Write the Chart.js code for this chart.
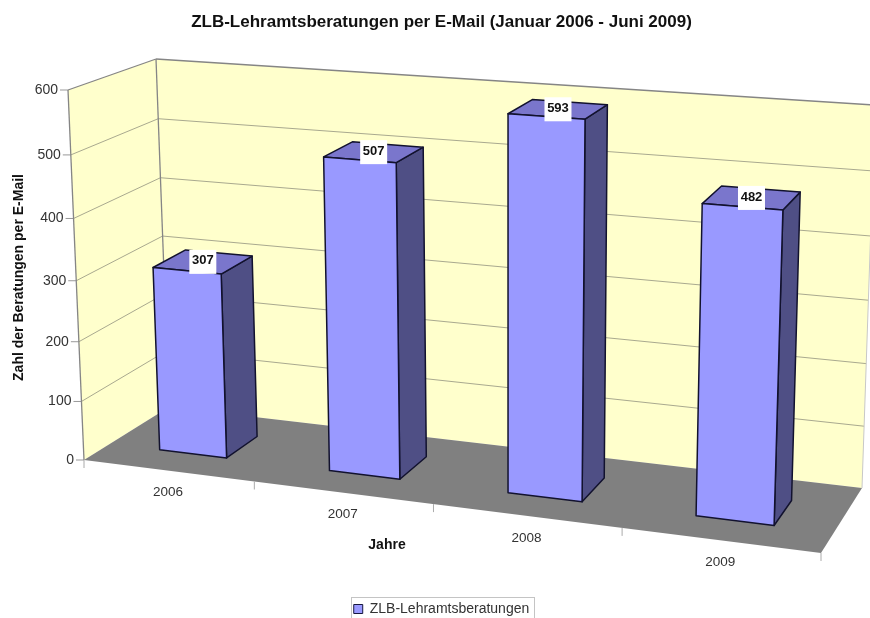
<!DOCTYPE html>
<html><head><meta charset="utf-8">
<style>html,body{margin:0;padding:0;background:#fff}canvas{display:block;filter:blur(0.45px)}</style>
<script src="https://cdn.jsdelivr.net/npm/chart.js@4"></script>
</head><body><canvas id="c" width="870" height="618"></canvas>
<script>
const categories = ['2006', '2007', '2008', '2009'];
const seriesName = 'ZLB-Lehramtsberatungen';
const values = [307, 507, 593, 482];
const yTickValues = [0, 100, 200, 300, 400, 500, 600];
const chartTitle = 'ZLB-Lehramtsberatungen per E-Mail (Januar 2006 - Juni 2009)';
const xTitle = 'Jahre';
const yTitle = 'Zahl der Beratungen per E-Mail';

// Projection of the 3D box: corners of the front and back planes (BL, BR, TR, TL)
function quad(p){
  const [[x0,y0],[x1,y1],[x2,y2],[x3,y3]]=p;
  const dx1=x1-x2,dx2=x3-x2,sx=x0-x1+x2-x3,dy1=y1-y2,dy2=y3-y2,sy=y0-y1+y2-y3;
  const den=dx1*dy2-dx2*dy1;
  const g=(sx*dy2-dx2*sy)/den,h=(dx1*sy-sx*dy1)/den;
  const a=x1-x0+g*x1,b=x3-x0+h*x3,d=y1-y0+g*y1,e=y3-y0+h*y3;
  return (u,v)=>{const w=g*u+h*v+1;return [(a*u+b*v+x0)/w,(d*u+e*v+y0)/w];};
}
const frontPlane=quad([[84,460],[821,553],[835,145],[68,90]]);
const backPlane=quad([[169,407],[862,488],[875,105],[156,59]]);
const project=(u,v,w)=>{
  const f=frontPlane(u,v-0.024*v*(1-v)),b=backPlane(u,v);
  return [f[0]+(b[0]-f[0])*w,f[1]+(b[1]-f[1])*w];
};
const DEPTH_NEAR=0.31, DEPTH_FAR=0.70;

function poly(ctx,pts,fill,stroke,lw){
  ctx.beginPath();pts.forEach((p,i)=>i?ctx.lineTo(p[0],p[1]):ctx.moveTo(p[0],p[1]));ctx.closePath();
  if(fill){ctx.fillStyle=fill;ctx.fill();}
  if(stroke){ctx.strokeStyle=stroke;ctx.lineWidth=lw||1;ctx.lineJoin='round';ctx.stroke();}
}
function seg(ctx,a,b,color,lw){ctx.beginPath();ctx.moveTo(a[0],a[1]);ctx.lineTo(b[0],b[1]);ctx.strokeStyle=color;ctx.lineWidth=lw||1;ctx.stroke();}

const box3d={
  id:'box3d',
  beforeDatasetDraw(){return false;},
  beforeDatasetsDraw(chart){
    const ctx=chart.ctx,A=chart.chartArea,xs=chart.scales.x,ys=chart.scales.y;
    const U=x=>(x-A.left)/(A.right-A.left), V=y=>(A.bottom-y)/(A.bottom-A.top);
    ctx.save();
    // walls and floor
    const wallEdge='#858585';
    poly(ctx,[project(0,0,1),project(1,0,1),project(1,1,1),project(0,1,1)],'#ffffcc');
    poly(ctx,[project(0,0,0),project(0,0,1),project(0,1,1),project(0,1,0)],'#ffffcc');
    poly(ctx,[project(0,0,0),project(1,0,0),project(1,0,1),project(0,0,1)],'#808080');
    // gridlines and value ticks, from the y scale
    ys.ticks.forEach(t=>{
      const v=V(ys.getPixelForValue(t.value));
      if(v>0.001&&v<0.999){
        seg(ctx,project(0,v,0),project(0,v,1),'#a9a98f',1);
        seg(ctx,project(0,v,1),project(1,v,1),'#a9a98f',1);
      }
      const p=project(0,v,0);
      seg(ctx,[p[0]-8,p[1]],p,'#999',1);
      ctx.fillStyle='#333';ctx.font='14px "Liberation Sans"';ctx.textAlign='right';ctx.textBaseline='middle';
      ctx.fillText(String(t.value),p[0]-10,p[1]);
    });
    // wall outlines
    seg(ctx,project(0,0,0),project(0,1,0),wallEdge,1.3);
    seg(ctx,project(0,1,0),project(0,1,1),wallEdge,1.3);
    seg(ctx,project(0,0,1),project(0,1,1),wallEdge,1.3);
    seg(ctx,project(0,1,1),project(1,1,1),wallEdge,1.6);
    seg(ctx,project(1,0,1),project(1,1,1),'#c8c8c8',1);
    // category ticks and labels, from the x scale
    for(let i=0;i<=categories.length;i++){
      const p=project(i/categories.length,0,0);
      seg(ctx,p,[p[0],p[1]+8],'#aaa',1);
    }
    ctx.fillStyle='#333';ctx.font='13.5px "Liberation Sans"';ctx.textAlign='center';ctx.textBaseline='middle';
    xs.ticks.forEach((t,i)=>{
      const p=project(U(xs.getPixelForTick(i)),0,0);
      ctx.fillText(categories[t.value],p[0],p[1]+22);
    });
    // bars
    const meta=chart.getDatasetMeta(0);
    const ink='#12122e';
    meta.data.forEach(bar=>{
      const u0=U(bar.x-bar.width/2),u1=U(bar.x+bar.width/2),v0=V(bar.base),v1=V(bar.y);
      poly(ctx,[project(u1,v0,DEPTH_NEAR),project(u1,v0,DEPTH_FAR),project(u1,v1,DEPTH_FAR),project(u1,v1,DEPTH_NEAR)],'#4f4f85',ink,1.5);
      poly(ctx,[project(u0,v1,DEPTH_NEAR),project(u1,v1,DEPTH_NEAR),project(u1,v1,DEPTH_FAR),project(u0,v1,DEPTH_FAR)],'#7a76cc',ink,1.5);
      poly(ctx,[project(u0,v0,DEPTH_NEAR),project(u1,v0,DEPTH_NEAR),project(u1,v1,DEPTH_NEAR),project(u0,v1,DEPTH_NEAR)],'#9999ff',ink,1.5);
    });
    // value labels on the top faces
    ctx.font='bold 13px "Liberation Sans"';ctx.textAlign='center';ctx.textBaseline='middle';
    meta.data.forEach((bar,i)=>{
      const p=project(U(bar.x),V(bar.y),(DEPTH_NEAR+DEPTH_FAR)/2);
      ctx.fillStyle='#fff';ctx.fillRect(p[0]-13.5,p[1]-12,27,24);
      ctx.fillStyle='#111';ctx.fillText(String(values[i]),p[0],p[1]-1);
    });
    // axis titles
    ctx.fillStyle='#111';ctx.font='bold 14px "Liberation Sans"';
    ctx.fillText(xTitle,387,545);
    ctx.translate(19,277.5);ctx.rotate(-Math.PI/2);ctx.fillText(yTitle,0,0);
    ctx.restore();
  },
  afterDraw(chart){
    const h=chart.legend&&chart.legend.legendHitBoxes[0];
    if(!h)return;
    const ctx=chart.ctx;ctx.save();ctx.strokeStyle='#c4c4c4';ctx.lineWidth=1;
    ctx.strokeRect(351.5,597.5,183,30);
    ctx.restore();
  }
};

new Chart(document.getElementById('c'),{
  type:'bar',
  data:{labels:categories,datasets:[{label:seriesName,data:values,backgroundColor:'#9999ff',borderColor:'#17173f',borderWidth:1,categoryPercentage:0.4,barPercentage:1}]},
  plugins:[box3d],
  options:{
    responsive:false,animation:false,
    layout:{padding:{left:13,right:0,top:12,bottom:-8}},
    scales:{
      x:{display:false,type:'category'},
      y:{display:false,type:'linear',min:0,max:600,afterBuildTicks(s){s.ticks=yTickValues.map(v=>({value:v}));}}
    },
    plugins:{
      title:{display:true,text:chartTitle,color:'#111',font:{family:'"Liberation Sans"',size:17,weight:'bold'},padding:{top:0,bottom:10}},
      legend:{position:'bottom',labels:{font:{family:'"Liberation Sans"',size:14},color:'#333',boxWidth:9,boxHeight:9,padding:3}},
      tooltip:{enabled:false}
    }
  }
});
</script></body></html>
